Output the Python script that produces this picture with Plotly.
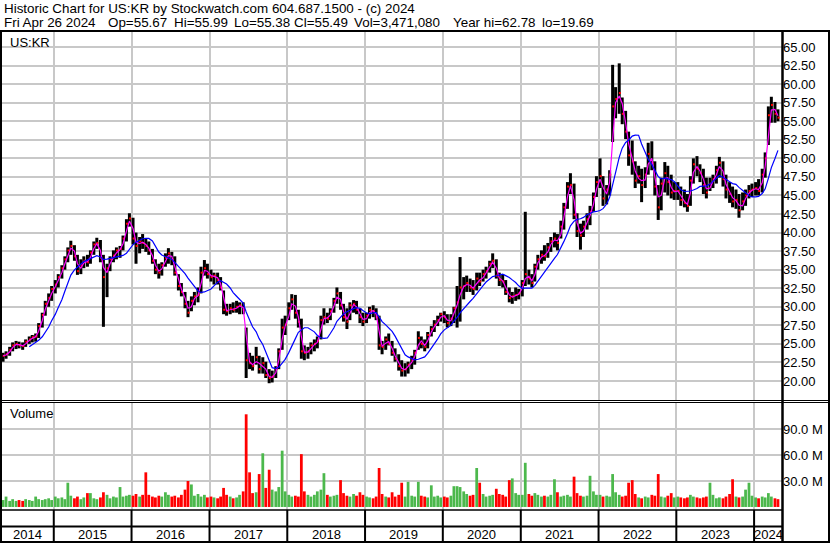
import pandas as pd
import plotly.graph_objects as go

# semi-monthly periods, May 2014 .. Apr 2024
period_start = "2014-05-01"
period_end = "2024-04-16"

highs = [
    # 2014 (May-Dec)
    23.8, 24.0, 24.6, 25.2, 25.4, 25.3, 25.2, 25.6, 26.0, 26.2, 26.4, 27.8, 29.2, 30.8, 31.8, 32.8,
    # 2015
    33.6, 34.4, 35.6, 36.8, 38.0, 38.9, 38.3, 37.0, 36.4, 36.8, 37.0, 37.6,
    38.8, 39.3, 39.0, 37.0, 35.8, 36.8, 37.6, 38.0, 38.2, 39.6, 41.8, 42.6,
    # 2016
    42.0, 40.0, 39.4, 39.8, 39.2, 38.8, 37.8, 36.4, 35.8, 36.0, 37.2, 37.9,
    37.4, 36.8, 34.4, 33.2, 32.0, 30.8, 31.4, 32.0, 32.6, 35.4, 36.3, 35.8,
    # 2017
    35.0, 34.6, 34.6, 34.0, 32.2, 30.4, 30.4, 30.6, 30.8, 30.6, 30.6, 27.2,
    23.8, 23.4, 24.6, 23.4, 23.2, 22.6, 21.6, 21.4, 22.0, 24.4, 28.4, 28.8,
    # 2018
    30.6, 31.7, 31.6, 29.6, 28.4, 24.8, 24.6, 25.2, 25.6, 26.0, 28.8, 29.8,
    29.2, 29.8, 31.2, 32.6, 32.0, 30.4, 29.8, 30.6, 30.9, 30.8, 29.8, 29.2,
    # 2019
    29.2, 30.0, 30.2, 29.8, 28.8, 25.4, 26.0, 26.4, 25.4, 24.4, 23.6, 22.8,
    22.4, 22.6, 23.4, 24.2, 26.7, 26.0, 25.6, 26.6, 27.4, 28.2, 28.8, 29.2,
    # 2020
    29.4, 29.0, 29.0, 30.0, 32.8, 36.7, 34.0, 34.2, 33.8, 33.6, 34.6, 34.6,
    35.0, 35.4, 36.2, 37.2, 36.4, 34.6, 34.4, 33.6, 32.6, 32.0, 32.6, 32.4,
    # 2021
    33.6, 42.8, 35.0, 34.4, 35.8, 37.0, 37.6, 38.3, 38.6, 39.4, 40.0, 39.8,
    41.6, 44.0, 46.8, 48.0, 46.6, 42.6, 41.2, 41.6, 42.6, 43.6, 45.4, 47.6,
    # 2022
    50.0, 47.6, 46.4, 48.4, 62.6, 59.6, 62.8, 58.2, 56.4, 53.6, 52.4, 49.6,
    49.0, 48.6, 48.8, 52.1, 52.3, 49.6, 46.4, 47.4, 49.5, 49.0, 47.8, 46.8,
    # 2023
    46.8, 46.2, 45.8, 45.2, 47.6, 50.0, 50.3, 49.2, 48.6, 47.4, 47.4, 47.8,
    49.0, 50.2, 49.6, 47.8, 46.8, 46.2, 45.8, 45.2, 45.4, 45.8, 46.4, 46.6,
    # 2024 (Jan-Apr)
    46.8, 47.2, 48.6, 50.8, 57.0, 58.3, 57.6, 56.6,
]

lows = [
    22.6, 23.0, 23.4, 24.0, 24.3, 24.4, 24.2, 24.6, 25.0, 25.2, 25.3, 25.8, 27.2, 28.8, 30.0, 30.8,
    31.8, 32.6, 33.8, 35.0, 36.0, 37.0, 36.2, 34.3, 34.4, 35.2, 35.4, 35.8,
    37.0, 37.8, 36.0, 27.3, 31.3, 34.8, 36.0, 36.4, 36.6, 37.6, 38.8, 40.8,
    38.4, 35.8, 37.2, 37.8, 37.4, 37.0, 35.8, 34.4, 33.8, 34.2, 35.4, 35.8,
    35.6, 34.2, 32.2, 31.4, 29.8, 28.6, 29.4, 30.2, 30.6, 31.8, 34.2, 33.8,
    33.4, 33.0, 33.0, 32.2, 29.0, 28.8, 29.0, 29.2, 29.2, 29.0, 29.0, 20.4,
    21.6, 21.4, 22.2, 21.0, 21.0, 20.4, 19.7, 19.8, 20.4, 21.6, 24.2, 26.2,
    28.2, 29.6, 28.4, 27.2, 23.0, 22.8, 23.0, 23.6, 24.0, 24.4, 25.6, 27.6,
    27.8, 28.2, 29.2, 30.4, 29.6, 28.0, 27.0, 28.2, 29.2, 29.0, 27.8, 27.4,
    27.8, 28.4, 28.6, 28.2, 24.2, 23.6, 24.2, 24.8, 23.4, 22.6, 21.4, 20.6,
    20.6, 21.0, 21.6, 22.2, 24.2, 24.4, 24.0, 24.4, 26.0, 26.6, 27.4, 28.0,
    27.8, 27.2, 27.4, 27.8, 27.2, 28.0, 31.0, 32.0, 32.0, 31.6, 32.2, 32.8,
    33.4, 33.8, 34.6, 35.2, 33.8, 32.8, 32.6, 31.6, 30.6, 30.4, 30.8, 31.0,
    31.4, 32.8, 33.0, 32.6, 33.4, 35.0, 35.8, 36.2, 36.6, 37.4, 38.0, 37.6,
    39.2, 40.4, 43.2, 45.2, 41.8, 39.4, 37.7, 39.4, 40.4, 41.0, 42.8, 44.8,
    46.0, 43.6, 43.8, 45.0, 52.2, 55.4, 56.0, 54.6, 52.6, 49.0, 47.8, 46.0,
    46.6, 44.1, 46.0, 47.8, 48.4, 45.0, 41.7, 43.0, 45.4, 45.0, 44.6, 44.4,
    44.4, 43.6, 43.4, 42.8, 43.6, 46.6, 47.6, 46.8, 45.2, 44.6, 45.6, 46.0,
    46.6, 47.4, 46.2, 44.6, 44.0, 43.4, 43.2, 42.0, 43.0, 43.6, 44.6, 44.8,
    45.0, 45.0, 45.4, 47.4, 51.8, 54.8, 54.8, 55.0,
]

closes = [
    23.4, 23.6, 24.2, 24.8, 25.0, 24.8, 24.7, 25.3, 25.6, 25.9, 26.0, 27.4, 28.9, 30.4, 31.2, 32.4,
    33.0, 34.0, 35.2, 36.4, 37.6, 38.2, 36.8, 34.8, 35.6, 36.2, 36.0, 37.3,
    38.4, 38.6, 36.6, 34.0, 35.2, 36.4, 36.9, 37.6, 37.8, 39.2, 41.2, 41.9,
    39.2, 38.2, 38.8, 38.6, 38.2, 37.6, 36.2, 35.0, 34.6, 35.6, 36.6, 37.2,
    36.4, 34.6, 32.8, 32.0, 30.4, 29.2, 30.8, 31.4, 31.6, 34.6, 35.2, 34.4,
    34.0, 34.2, 33.6, 32.6, 29.6, 29.4, 29.8, 29.6, 30.0, 30.2, 29.6, 22.8,
    22.4, 22.0, 23.2, 21.6, 22.4, 20.8, 20.4, 20.6, 21.6, 24.0, 27.2, 27.6,
    29.8, 31.0, 29.2, 28.0, 24.0, 23.8, 24.0, 24.8, 25.0, 25.4, 28.2, 28.6,
    28.4, 29.4, 30.8, 31.8, 30.2, 28.6, 28.0, 30.2, 30.4, 29.6, 28.6, 28.0,
    28.8, 29.6, 29.4, 28.6, 24.8, 24.6, 25.6, 25.0, 23.8, 23.0, 22.0, 21.4,
    21.6, 22.2, 22.8, 23.8, 25.8, 25.0, 24.6, 26.2, 27.0, 27.6, 28.2, 29.0,
    28.6, 27.8, 28.4, 29.8, 30.6, 32.6, 32.8, 33.2, 32.6, 32.4, 33.8, 33.4,
    34.4, 34.8, 35.8, 36.2, 34.2, 33.6, 33.4, 32.0, 31.2, 31.4, 31.6, 31.8,
    33.2, 34.4, 33.8, 33.2, 35.4, 36.4, 37.0, 36.8, 38.0, 38.8, 39.2, 38.6,
    40.8, 43.4, 46.2, 46.4, 42.4, 40.2, 39.6, 40.8, 41.8, 42.8, 44.8, 46.8,
    47.6, 44.6, 45.8, 47.8, 57.0, 58.0, 58.8, 56.0, 53.6, 50.4, 49.6, 47.0,
    47.6, 46.4, 47.8, 50.6, 49.4, 46.2, 43.4, 46.6, 48.0, 46.8, 45.4, 45.6,
    45.6, 44.4, 44.0, 43.6, 47.0, 49.2, 48.6, 48.0, 46.4, 45.4, 46.6, 47.2,
    48.4, 49.4, 47.2, 45.8, 45.2, 44.2, 44.4, 43.0, 44.2, 45.0, 45.6, 45.8,
    46.0, 45.6, 47.8, 50.0, 55.8, 57.2, 56.0, 55.49,
]

# volume, millions of shares (peak daily volume seen in each half month)
volumes = [
    8, 12, 7, 9, 7, 8, 7, 9, 8, 7, 12, 9, 8, 9, 10, 8,
    12, 10, 11, 9, 28, 13, 10, 12, 9, 11, 16, 16, 10, 9, 11, 17, 14, 10, 12, 11, 23, 12, 13, 14,
    13, 15, 12, 14, 40, 14, 12, 11, 13, 12, 17, 14, 12, 13, 11, 14, 20, 30, 26, 13, 15, 12, 14, 11,
    12, 11, 10, 12, 22, 14, 12, 10, 11, 14, 18, 107, 40, 16, 17, 38, 62, 22, 43, 20, 18, 23, 65, 18,
    14, 12, 13, 12, 61, 18, 14, 12, 14, 18, 20, 39, 14, 12, 13, 14, 31, 16, 13, 12, 15, 13, 17, 14,
    12, 11, 10, 12, 45, 15, 12, 11, 17, 12, 14, 28, 12, 29, 13, 12, 29, 13, 12, 11, 25, 12, 13, 11,
    12, 11, 13, 24, 24, 23, 18, 15, 13, 14, 45, 28, 15, 12, 13, 14, 21, 15, 14, 12, 31, 33, 16, 14,
    14, 51, 15, 13, 16, 14, 12, 13, 12, 14, 32, 17, 12, 13, 14, 12, 35, 16, 13, 12, 13, 36, 18, 14,
    14, 12, 13, 12, 38, 17, 14, 12, 13, 28, 31, 15, 11, 10, 12, 11, 14, 13, 38, 12, 11, 13, 16, 11,
    12, 11, 10, 11, 14, 12, 11, 10, 11, 12, 28, 14, 10, 11, 10, 12, 15, 32, 12, 11, 12, 20, 28, 13,
    11, 10, 12, 11, 16, 12, 10, 9,
]

price_ticks = [20, 22.5, 25, 27.5, 30, 32.5, 35, 37.5, 40, 42.5, 45, 47.5, 50, 52.5, 55, 57.5, 60, 62.5, 65]
volume_ticks = [30, 60, 90]
years = list(range(2015, 2025))

FONT = "Arial, Liberation Sans, sans-serif"
GRID = "#c8c8c8"
X_RANGE = [pd.Timestamp("2014-05-03"), pd.Timestamp("2024-05-11")]


def px_x(px):
    # pixel column -> paper x (plot area spans 2..782)
    return (px - 2) / 780.0


def px_y(py):
    # pixel row -> paper y (plot area spans 31..510)
    return (510 - py) / 479.0


starts = pd.date_range(period_start, period_end, freq="SMS")
mids = starts + pd.Timedelta(days=7)
df = pd.DataFrame({"date": mids, "hi": highs, "lo": lows, "cl": closes, "vol": volumes})
df["ma_fast"] = df["cl"].rolling(2, min_periods=1).mean()
df["ma_slow"] = df["cl"].rolling(9).mean()
df["up"] = df["cl"].diff().fillna(1) >= 0

fig = go.Figure()

# high-low bars
bx, by = [], []
for d, h, l in zip(df["date"], df["hi"], df["lo"]):
    bx += [d, d, None]
    by += [l, h, None]
fig.add_trace(go.Scatter(x=bx, y=by, mode="lines", line=dict(color="black", width=3),
                         hoverinfo="skip", yaxis="y"))

fig.add_trace(go.Scatter(x=df["date"] + pd.Timedelta(days=3), y=df["cl"], mode="markers",
                         marker=dict(symbol="square", size=2, color="#ff0000"), yaxis="y"))

fig.add_trace(go.Scatter(x=df["date"], y=df["ma_fast"], mode="lines",
                         line=dict(color="#ff00ff", width=1.2), yaxis="y"))
fig.add_trace(go.Scatter(x=df["date"], y=df["ma_slow"], mode="lines",
                         line=dict(color="#0000ff", width=1.2), yaxis="y"))

fig.add_trace(go.Bar(x=df["date"], y=df["vol"], yaxis="y2",
                     marker=dict(color=["#4cb84c" if u else "#ff0000" for u in df["up"]], line=dict(width=0)),
                     width=13 * 86400000))

# borders and the date strip
shapes = []


def line(x0, y0, x1, y1, w=2, xref="paper"):
    shapes.append(dict(type="line", xref=xref, yref="paper", x0=x0, y0=y0, x1=x1, y1=y1,
                       line=dict(color="black", width=w)))


left, right, col = px_x(0), px_x(830), px_x(782.5)
line(left, px_y(31), right, px_y(31))
line(px_x(1), px_y(31), px_x(1), px_y(543))
line(px_x(829), px_y(31), px_x(829), px_y(543))
line(left, px_y(542), right, px_y(542))
line(col, px_y(31), col, px_y(543), w=2.5)
line(left, px_y(400.5), right, px_y(400.5), w=1)
line(left, px_y(402.5), right, px_y(402.5), w=1)
line(left, px_y(510), col, px_y(510), w=1.5)
line(left, px_y(526.5), col, px_y(526.5), w=2)
for yr in years:
    d = pd.Timestamp(f"{yr}-01-01")
    line(d, px_y(510), d, px_y(542), w=2, xref="x")

annotations = []
bounds = [X_RANGE[0]] + [pd.Timestamp(f"{yr}-01-01") for yr in years] + [X_RANGE[1]]
for i in range(len(bounds) - 1):
    mid = bounds[i] + (bounds[i + 1] - bounds[i]) / 2
    annotations.append(dict(x=mid, y=px_y(534.5), xref="x", yref="paper", text=str(2014 + i),
                            showarrow=False, xanchor="center", yanchor="middle",
                            font=dict(size=13, color="black", family=FONT)))


def label(px, py, text, size=13):
    annotations.append(dict(x=px_x(px), y=px_y(py), xref="paper", yref="paper", text=text,
                            showarrow=False, xanchor="left", yanchor="middle",
                            font=dict(size=size, color="black", family=FONT)))


label(2, 9, "Historic Chart for US:KR by Stockwatch.com 604.687.1500 - (c) 2024", size=13.4)
header = [(2, "Fri Apr 26 2024"), (106, "Op=55.67"), (172, "Hi=55.99"), (232, "Lo=55.38"),
          (292, "Cl=55.49"), (352, "Vol=3,471,080"), (451, "Year hi=62.78"), (540, "lo=19.69")]
for px, t in header:
    label(px, 23, t, size=13.4)
label(8, 42, "US:KR")
label(8, 413, "Volume")

fig.update_layout(
    width=830, height=543,
    margin=dict(l=2, r=48, t=31, b=33),
    paper_bgcolor="white", plot_bgcolor="white",
    showlegend=False,
    font=dict(family=FONT, size=13, color="black"),
    xaxis=dict(type="date", range=X_RANGE, anchor="y2", domain=[0, 1],
               tickvals=[pd.Timestamp(f"{yr}-01-01") for yr in years],
               showticklabels=False, showgrid=True, gridcolor=GRID, gridwidth=2,
               zeroline=False, showline=False, ticks=""),
    yaxis=dict(domain=[px_y(400), 1], side="right", range=[17.44, 67.16],
               tickvals=price_ticks, ticktext=[f"{v:.2f}" for v in price_ticks],
               showgrid=True, gridcolor=GRID, gridwidth=2, zeroline=False, ticks="",
               tickfont=dict(size=13, color="black", family=FONT)),
    yaxis2=dict(domain=[0, px_y(402)], side="right", range=[-3.5, 121.2],
                tickvals=volume_ticks, ticktext=[f"{v:.1f} M" for v in volume_ticks],
                showgrid=True, gridcolor=GRID, gridwidth=2, zeroline=False, ticks="",
                tickfont=dict(size=13, color="black", family=FONT)),
    shapes=shapes,
    annotations=annotations,
)

# the page's default body margin would shift the chart 8px right and down
fig.write_html("out.html", config={"displayModeBar": False},
               post_script="document.body.style.margin='0px';")
